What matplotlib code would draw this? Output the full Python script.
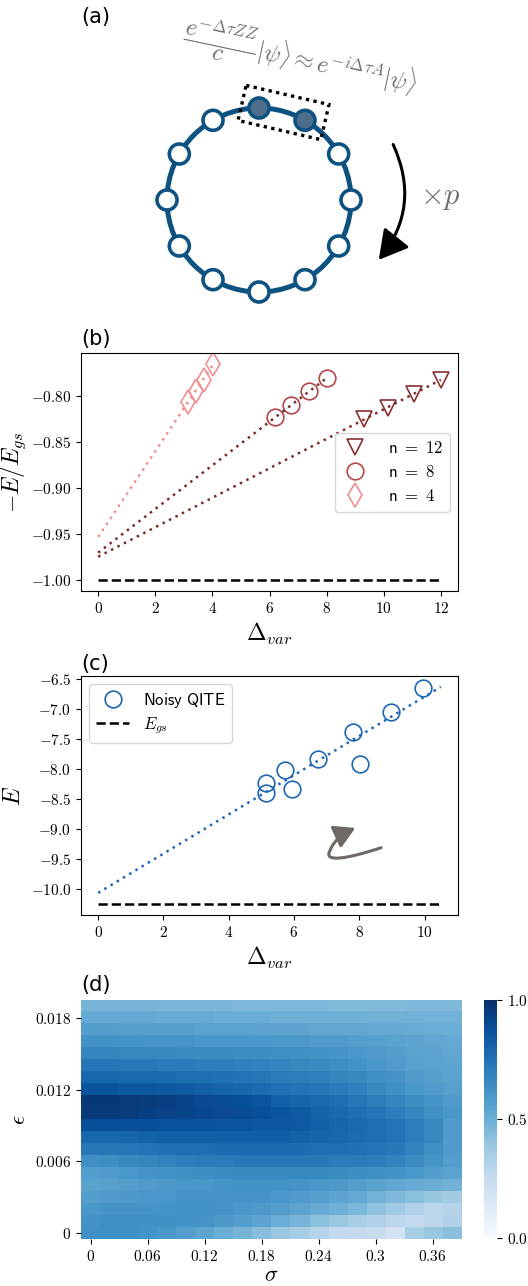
import numpy as np
import matplotlib
matplotlib.use('Agg')
import matplotlib.pyplot as plt
from matplotlib.patches import Circle, Polygon, FancyArrowPatch
from matplotlib.path import Path
from matplotlib.ticker import FuncFormatter

plt.rcParams['mathtext.fontset'] = 'cm'

# ---- data -------------------------------------------------------------
# (b) -E/E_gs vs Delta_var for three system sizes
dvar_n12 = [9.30, 10.15, 11.05, 12.0]
e_n12 = [-0.825, -0.8123, -0.797, -0.782]
dvar_n8 = [6.21, 6.77, 7.39, 8.02]
e_n8 = [-0.8228, -0.809, -0.7946, -0.7797]
dvar_n4 = [3.13, 3.41, 3.70, 4.01]
e_n4 = [-0.806, -0.7946, -0.7826, -0.7646]
egs_b = -1.0

# (c) noisy QITE energies
dvar_c = [9.94, 8.98, 7.81, 8.01, 6.73, 5.74, 5.94, 5.14, 5.13]
e_c = [-6.656, -7.05, -7.383, -7.911, -7.839, -8.022, -8.339, -8.233, -8.394]
egs_c = -10.25
fit_end_c = 10.5

# (d) heatmap: rows from eps = 0.019 (top) down to eps = 0 (bottom)
sigma_vals = [0, 0.02, 0.04, 0.06, 0.08, 0.10, 0.12, 0.14, 0.16, 0.18,
              0.20, 0.22, 0.24, 0.26, 0.28, 0.30, 0.32, 0.34, 0.36, 0.38]
eps_vals = [0, 0.001, 0.002, 0.003, 0.004, 0.005, 0.006, 0.007, 0.008, 0.009,
            0.010, 0.011, 0.012, 0.013, 0.014, 0.015, 0.016, 0.017, 0.018, 0.019]
heat_rows = [
    [0.47, 0.47, 0.47, 0.47, 0.46, 0.46, 0.46, 0.46, 0.45, 0.45, 0.45, 0.45, 0.45, 0.44, 0.44, 0.44, 0.44, 0.45, 0.45, 0.45],
    [0.52, 0.52, 0.52, 0.52, 0.51, 0.51, 0.51, 0.50, 0.50, 0.50, 0.49, 0.49, 0.49, 0.49, 0.49, 0.48, 0.48, 0.48, 0.48, 0.48],
    [0.57, 0.57, 0.56, 0.56, 0.56, 0.56, 0.55, 0.55, 0.55, 0.54, 0.54, 0.54, 0.53, 0.53, 0.53, 0.52, 0.52, 0.51, 0.50, 0.50],
    [0.62, 0.62, 0.62, 0.61, 0.61, 0.61, 0.60, 0.60, 0.60, 0.60, 0.59, 0.59, 0.58, 0.58, 0.57, 0.56, 0.55, 0.54, 0.53, 0.52],
    [0.67, 0.67, 0.66, 0.66, 0.66, 0.65, 0.65, 0.65, 0.64, 0.64, 0.63, 0.63, 0.62, 0.61, 0.60, 0.58, 0.57, 0.55, 0.54, 0.53],
    [0.73, 0.73, 0.72, 0.72, 0.71, 0.71, 0.70, 0.70, 0.69, 0.68, 0.67, 0.66, 0.65, 0.64, 0.62, 0.60, 0.58, 0.56, 0.55, 0.54],
    [0.79, 0.79, 0.78, 0.78, 0.77, 0.76, 0.76, 0.75, 0.74, 0.73, 0.71, 0.70, 0.69, 0.67, 0.66, 0.63, 0.61, 0.58, 0.56, 0.55],
    [0.86, 0.86, 0.85, 0.85, 0.84, 0.83, 0.82, 0.80, 0.79, 0.77, 0.75, 0.74, 0.73, 0.71, 0.69, 0.66, 0.63, 0.60, 0.58, 0.56],
    [0.97, 0.97, 0.96, 0.95, 0.94, 0.92, 0.90, 0.89, 0.88, 0.86, 0.82, 0.80, 0.78, 0.76, 0.73, 0.70, 0.67, 0.64, 0.61, 0.58],
    [0.96, 0.96, 0.95, 0.94, 0.93, 0.92, 0.91, 0.90, 0.89, 0.88, 0.86, 0.84, 0.81, 0.78, 0.76, 0.73, 0.70, 0.67, 0.63, 0.60],
    [0.88, 0.88, 0.88, 0.88, 0.87, 0.87, 0.87, 0.86, 0.86, 0.85, 0.85, 0.84, 0.82, 0.80, 0.78, 0.76, 0.74, 0.70, 0.66, 0.58],
    [0.79, 0.79, 0.80, 0.81, 0.82, 0.82, 0.82, 0.82, 0.82, 0.82, 0.82, 0.81, 0.80, 0.79, 0.77, 0.76, 0.74, 0.70, 0.66, 0.58],
    [0.72, 0.72, 0.73, 0.74, 0.75, 0.76, 0.76, 0.77, 0.77, 0.77, 0.77, 0.77, 0.76, 0.76, 0.75, 0.74, 0.72, 0.68, 0.63, 0.58],
    [0.63, 0.64, 0.66, 0.67, 0.68, 0.70, 0.71, 0.71, 0.72, 0.72, 0.72, 0.72, 0.72, 0.71, 0.71, 0.70, 0.68, 0.65, 0.61, 0.57],
    [0.57, 0.58, 0.60, 0.61, 0.62, 0.63, 0.64, 0.65, 0.66, 0.66, 0.66, 0.66, 0.66, 0.65, 0.64, 0.63, 0.62, 0.60, 0.57, 0.55],
    [0.55, 0.56, 0.57, 0.58, 0.59, 0.60, 0.60, 0.61, 0.62, 0.62, 0.62, 0.61, 0.60, 0.59, 0.57, 0.55, 0.53, 0.51, 0.50, 0.48],
    [0.57, 0.58, 0.59, 0.60, 0.60, 0.61, 0.61, 0.61, 0.61, 0.61, 0.60, 0.58, 0.56, 0.54, 0.52, 0.48, 0.45, 0.42, 0.39, 0.36],
    [0.60, 0.61, 0.61, 0.61, 0.62, 0.62, 0.62, 0.61, 0.60, 0.59, 0.57, 0.54, 0.51, 0.49, 0.46, 0.41, 0.37, 0.32, 0.28, 0.30],
    [0.62, 0.63, 0.63, 0.63, 0.63, 0.62, 0.61, 0.59, 0.57, 0.54, 0.50, 0.47, 0.42, 0.38, 0.34, 0.32, 0.28, 0.26, 0.28, 0.32],
    [0.63, 0.63, 0.63, 0.62, 0.60, 0.57, 0.54, 0.50, 0.47, 0.43, 0.38, 0.35, 0.30, 0.26, 0.25, 0.23, 0.18, 0.34, 0.39, 0.42],
]

# (a) ring diagram
n_sites = 12
filled_sites = [2, 3]   # sites at 60 and 90 degrees

W, H = 528, 1286
fig = plt.figure(figsize=(W / 100, H / 100), dpi=100)

def fig_rect(left, top, right, bottom):
    return [left / W, 1 - bottom / H, (right - left) / W, (bottom - top) / H]

gray = '#707070'
ring_col = '#0e5282'

# -------------------------------
# (a) ring of qubits
# -------------------------------
ax_a = fig.add_axes([0, 1 - 310 / H, 1, 310 / H])
ax_a.set_xlim(0, W)
ax_a.set_ylim(310, 0)
ax_a.axis('off')
cx, cy, r = 259, 200, 92
ax_a.add_patch(Circle((cx, cy), r, fill=False, ec=ring_col, lw=3.6, zorder=1))
for k in range(n_sites):
    ang = np.deg2rad(30 * k)
    px, py = cx + r * np.cos(ang), cy - r * np.sin(ang)
    fc = '#4f6e8c' if k in filled_sites else 'white'
    ax_a.add_patch(Circle((px, py), 10, fc=fc, ec=ring_col, lw=2.6, zorder=2))

th = np.deg2rad(13)
u = np.array([np.cos(th), np.sin(th)])
v = np.array([-np.sin(th), np.cos(th)])
c0 = np.array([283.5, 112.5])
corners = [c0 - 42.5 * u - 18 * v, c0 + 42.5 * u - 18 * v,
           c0 + 42.5 * u + 18 * v, c0 - 42.5 * u + 18 * v]
ax_a.add_patch(Polygon(corners, closed=True, fill=False, ec='k', lw=2.4,
                       ls=(0, (1, 1.3)), zorder=3))

ax_a.text(300, 58, r'$\dfrac{e^{-\Delta\tau ZZ}}{c}|\psi\rangle \approx e^{-i\Delta\tau A}|\psi\rangle$',
          rotation=-12, ha='center', va='center', color=gray, fontsize=17.5)
ax_a.text(440, 198, r'$\times p$', ha='center', va='center', color=gray, fontsize=22)
ax_a.add_patch(FancyArrowPatch((392, 142), (377, 262), connectionstyle='arc3,rad=-0.32',
                               arrowstyle='-|>,head_length=0.8,head_width=0.45',
                               mutation_scale=22, lw=2.2, color='k'))
fig.text(81 / W, 1 - 17 / H, '(a)', fontsize=15, ha='left', va='center')

# -------------------------------
# (b) -E/E_gs vs Delta_var
# -------------------------------
ax_b = fig.add_axes(fig_rect(81, 353, 458, 591))
c12, c8, c4 = '#87302f', '#b5474a', '#f08e92'
series = [(dvar_n12, e_n12, 'v', c12, '#7c2b2b', 'n = 12'),
          (dvar_n8, e_n8, 'o', c8, '#7c2b2b', 'n = 8'),
          (dvar_n4, e_n4, 'd', c4, '#f08e92', 'n = 4')]
for x, y, m, col, lcol, lab in series:
    ax_b.plot(x, y, m, ls='none', ms=12, mfc='none', mec=col, mew=1.2,
              label=r'$\mathsf{' + lab.replace(' ', r'\ ') + '}$')
for x, y, m, col, lcol, lab in series:
    coef = np.polyfit(x, y, 1)
    xf = np.array([0, max(x)])
    ax_b.plot(xf, np.polyval(coef, xf), ls=(0, (1, 1.9)), color=lcol, lw=1.8)
ax_b.plot([0, max(dvar_n12)], [egs_b, egs_b], '--', color='k', lw=1.8)
ax_b.set_xticks([0, 2, 4, 6, 8, 10, 12])
ax_b.set_yticks([-1.0, -0.95, -0.90, -0.85, -0.80])
ax_b.xaxis.set_major_formatter(FuncFormatter(lambda val, p: f'${val:.0f}$'))
ax_b.yaxis.set_major_formatter(FuncFormatter(lambda val, p: f'${val:.2f}$'))
ax_b.tick_params(labelsize=11)
ax_b.set_xlabel(r'$\Delta_{var}$', fontsize=17)
ax_b.set_ylabel(r'$-E/E_{gs}$', fontsize=17, labelpad=2)
ax_b.legend(loc='center right', fontsize=12, handlelength=1.6, handletextpad=1.2,
            labelspacing=0.35)
fig.text(81 / W, 1 - 339 / H, '(b)', fontsize=15, ha='left', va='center')

# -------------------------------
# (c) noisy QITE energy
# -------------------------------
ax_c = fig.add_axes(fig_rect(81, 676, 458, 915))
blue = '#1f66b3'
ax_c.plot(dvar_c, e_c, 'o', ls='none', ms=12, mfc='none', mec=blue, mew=1.2,
          label=r'$\mathsf{Noisy\ QITE}$')
coef_c = np.polyfit(dvar_c, e_c, 1)
xf_c = np.array([0, fit_end_c])
ax_c.plot(xf_c, np.polyval(coef_c, xf_c), ls=(0, (1, 1.9)), color=blue, lw=1.8)
ax_c.plot([0, fit_end_c], [egs_c, egs_c], '--', color='k', lw=1.8, label=r'$E_{gs}$')
ax_c.set_xticks([0, 2, 4, 6, 8, 10])
ax_c.set_yticks([-10.0, -9.5, -9.0, -8.5, -8.0, -7.5, -7.0, -6.5])
ax_c.xaxis.set_major_formatter(FuncFormatter(lambda val, p: f'${val:.0f}$'))
ax_c.yaxis.set_major_formatter(FuncFormatter(lambda val, p: f'${val:.1f}$'))
ax_c.tick_params(labelsize=11)
ax_c.set_xlabel(r'$\Delta_{var}$', fontsize=17)
ax_c.set_ylabel(r'$E$', fontsize=17)
ax_c.legend(loc='upper left', fontsize=12, handlelength=2.0, labelspacing=0.3)
arrow_path = Path([(8.67, -9.31), (7.6, -9.5), (6.9, -9.56), (7.1, -9.36),
                   (7.25, -9.15), (7.6, -9.05), (7.88, -8.98)],
                  [Path.MOVETO, Path.CURVE4, Path.CURVE4, Path.CURVE4,
                   Path.CURVE4, Path.CURVE4, Path.CURVE4])
ax_c.add_patch(FancyArrowPatch(path=arrow_path, arrowstyle='-|>,head_length=0.7,head_width=0.4',
                               mutation_scale=18, lw=2.2, color='#6e6964'))
fig.text(81 / W, 1 - 664 / H, '(c)', fontsize=15, ha='left', va='center')

# -------------------------------
# (d) heatmap
# -------------------------------
ax_d = fig.add_axes(fig_rect(81, 1000, 461, 1239))
Z = np.array(heat_rows)[::-1]
im = ax_d.imshow(Z, cmap='Blues', vmin=0, vmax=1, aspect='auto', origin='lower',
                 extent=(-0.5, len(sigma_vals) - 0.5, -0.5, len(eps_vals) - 0.5))
for s in ax_d.spines.values():
    s.set_visible(False)
xt = list(range(0, len(sigma_vals), 3))
yt = list(range(0, len(eps_vals), 6))
ax_d.set_xticks(xt)
ax_d.set_xticklabels([r'$\mathsf{' + f'{sigma_vals[i]:g}' + '}$' for i in xt])
ax_d.set_yticks(yt)
ax_d.set_yticklabels([r'$\mathsf{' + f'{eps_vals[i]:g}' + '}$' for i in yt])
ax_d.tick_params(labelsize=11)
ax_d.set_xlabel(r'$\sigma$', fontsize=16, labelpad=1)
ax_d.set_ylabel(r'$\epsilon$', fontsize=16)
cax = fig.add_axes(fig_rect(484, 1000, 497, 1238))
cb = fig.colorbar(im, cax=cax)
cb.outline.set_visible(False)
cb.set_ticks([0, 0.5, 1.0])
cb.set_ticklabels([r'$0.0$', r'$0.5$', r'$1.0$'])
cb.ax.tick_params(labelsize=11)
fig.text(81 / W, 1 - 985 / H, '(d)', fontsize=15, ha='left', va='center')

fig.savefig('out.png', dpi=100)
